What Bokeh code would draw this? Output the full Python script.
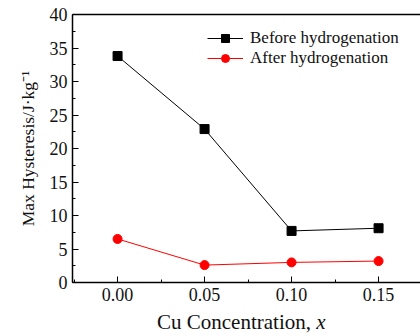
from bokeh.plotting import figure
from bokeh.models import (SingleIntervalTicker, FixedTicker, NumeralTickFormatter, Range1d,
                          Legend, LegendItem, LinearAxis, Div)
from bokeh.layouts import column
from bokeh.embed import file_html
from bokeh.resources import INLINE

cu = [0.00, 0.05, 0.10, 0.15]
before = [33.8, 22.9, 7.7, 8.1]
after = [6.5, 2.6, 3.0, 3.2]
series_names = ["Before hydrogenation", "After hydrogenation"]
x_title = "Cu Concentration, "
x_title_var = "x"
y_title = "Max Hysteresis/J·kg⁻¹"

FONT = "Liberation Serif"
TXT = "#111111"

p = figure(width=420, height=306, output_backend="svg", toolbar_location=None,
           x_range=Range1d(-0.0259, 0.1741), y_range=Range1d(0, 40),
           min_border_left=72, min_border_right=0, min_border_top=14,
           min_border_bottom=24)
p.outline_line_color = None
p.grid.visible = False
p.background_fill_color = "white"

l1 = p.line(cu, before, line_color="black", line_width=1)
m1 = p.scatter(cu, before, marker="square", size=9, fill_color="black", line_color="black")
l2 = p.line(cu, after, line_color="#ff0000", line_width=1)
m2 = p.scatter(cu, after, marker="circle", size=9, fill_color="#ff0000", line_color="#ff0000")

xa = p.xaxis[0]
xa.ticker = SingleIntervalTicker(interval=0.05, num_minor_ticks=2)
xa.formatter = NumeralTickFormatter(format="0.00")
ya = p.yaxis[0]
ya.ticker = SingleIntervalTicker(interval=5, num_minor_ticks=2)
ya.axis_label = y_title

for ax in (xa, ya):
    ax.major_tick_in = 6
    ax.major_tick_out = 0
    ax.minor_tick_in = 3
    ax.minor_tick_out = 0
    ax.axis_line_color = "black"
    ax.axis_line_width = 1.5
    ax.major_tick_line_color = "black"
    ax.minor_tick_line_color = "black"
    ax.major_label_text_font = FONT
    ax.major_label_text_font_size = "18px"
    ax.major_label_text_color = TXT
    ax.axis_label_text_font = FONT
    ax.axis_label_text_font_style = "normal"
    ax.axis_label_text_color = TXT
    ax.major_label_standoff = 5
ya.axis_label_text_font_size = "17.5px"
ya.axis_label_standoff = 9

top = LinearAxis(ticker=FixedTicker(ticks=[]), major_tick_line_color=None,
                 minor_tick_line_color=None, axis_line_color="black", axis_line_width=1.5)
p.add_layout(top, "above")

legend = Legend(items=[LegendItem(label=series_names[0], renderers=[l1, m1]),
                       LegendItem(label=series_names[1], renderers=[l2, m2])],
                location=(135, 214), border_line_color=None, background_fill_alpha=0,
                padding=0, margin=0, spacing=0, glyph_width=36, glyph_height=20,
                label_height=20, label_standoff=7,
                label_text_font=FONT, label_text_font_size="17px",
                label_text_color=TXT)
p.add_layout(legend, "center")

# x-axis title: upright text followed by an italic variable
xlab = Div(text=f"{x_title}<i>{x_title_var}</i>", width=420, height=30, margin=(0, 0, 0, 0),
           styles={"font-family": FONT, "font-size": "21px", "color": TXT,
                   "line-height": "21px", "padding-top": "6px", "padding-left": "157px",
                   "white-space": "pre", "box-sizing": "border-box"})

layout = column(p, xlab, spacing=0)
open("out.html", "w").write(file_html(layout, INLINE))
